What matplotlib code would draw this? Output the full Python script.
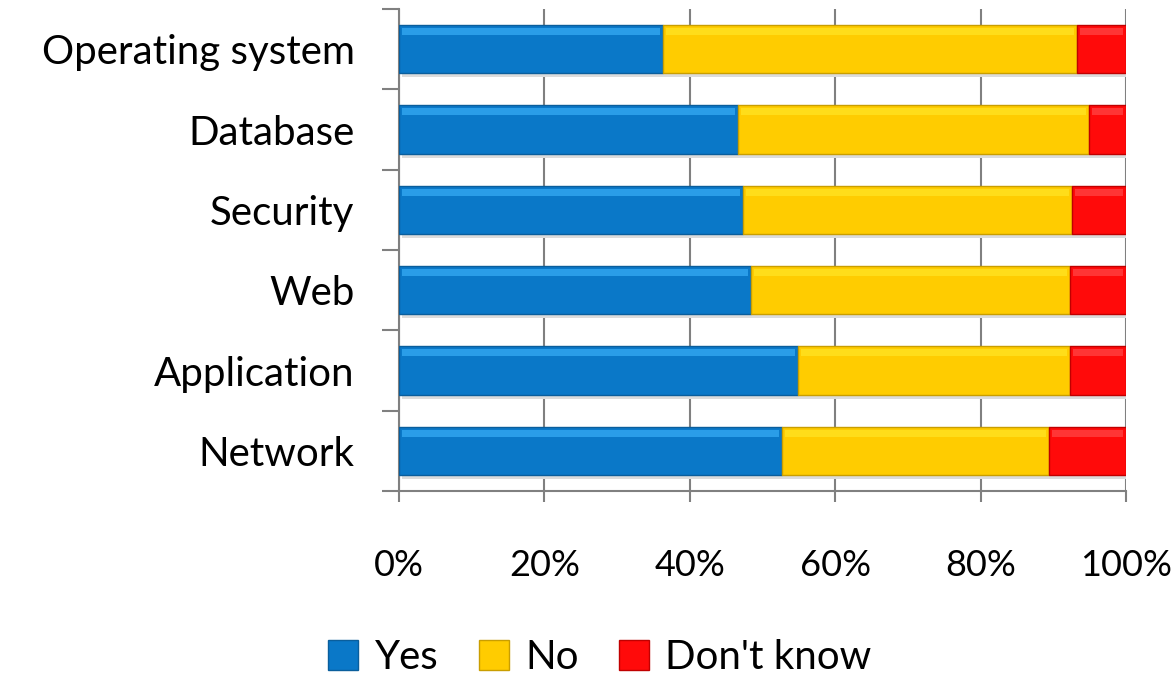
import matplotlib.pyplot as plt
import numpy as np

plt.rcParams['font.family'] = ['Lato', 'DejaVu Sans']

# Dados (percentual de respostas)
categorias = ['Operating system', 'Database', 'Security', 'Web', 'Application', 'Network']
sim = [36.3, 46.6, 47.3, 48.4, 54.9, 52.7]
nao = [57.0, 48.3, 45.3, 43.9, 37.4, 36.7]
nao_sei = [6.7, 5.1, 7.4, 7.7, 7.7, 10.6]
series = ['Yes', 'No', "Don't know"]
cores = ['#0A78C8', '#FFCC00', '#FF0A0A']
cores_claras = ['#2A9DE8', '#FFDD1A', '#FF3535']
cores_escuras = ['#0A5E9C', '#C99E00', '#C00000']

fig = plt.figure(figsize=(11.76, 6.75), dpi=100)
ax = fig.add_axes([0.3393, 0.2726, 0.6182, 0.714])

y = np.arange(len(categorias))[::-1]
h = 0.6
esq = np.zeros(len(categorias))
for vals, c, cl, ce, nome in zip([sim, nao, nao_sei], cores, cores_claras, cores_escuras, series):
    vals = np.array(vals)
    # sombra
    ax.barh(y - 0.05, vals, h, left=esq + 0.4, color='#dcdcdc', zorder=1)
    ax.barh(y, vals, h, left=esq, color=c, edgecolor=ce, linewidth=1, zorder=3, label=nome)
    # brilho no topo
    ax.barh(y + h / 2 - 0.08, vals - 0.8, 0.09, left=esq + 0.4, color=cl, linewidth=0, zorder=4)
    esq = esq + vals

ax.set_xlim(0, 100)
ax.set_ylim(-0.5, len(categorias) - 0.5)
ax.set_xticks(np.arange(0, 101, 20))
ax.set_xticklabels([f'{v}%' for v in range(0, 101, 20)])
ax.set_yticks(y)
ax.set_yticklabels(categorias)
ax.set_yticks(np.arange(-0.5, len(categorias), 1), minor=True)

ax.grid(True, axis='x', color='#808080', linewidth=1.5, zorder=0)
ax.set_axisbelow(True)
for s in ['top', 'right']:
    ax.spines[s].set_visible(False)
for s in ['left', 'bottom']:
    ax.spines[s].set_color('#808080')
    ax.spines[s].set_linewidth(1.5)

ax.tick_params(axis='y', which='major', length=0, pad=32, labelsize=29)
ax.tick_params(axis='y', which='minor', length=12, width=1.5, color='#808080')
ax.tick_params(axis='x', length=8, width=1.5, color='#808080', pad=34, labelsize=26)

leg = fig.legend(loc='lower center', bbox_to_anchor=(0.51, -0.055), ncol=3, frameon=False,
                 fontsize=29, handlelength=0.75, handleheight=0.75, columnspacing=1.0,
                 handletextpad=0.4)

fig.savefig('out.png', dpi=100)
